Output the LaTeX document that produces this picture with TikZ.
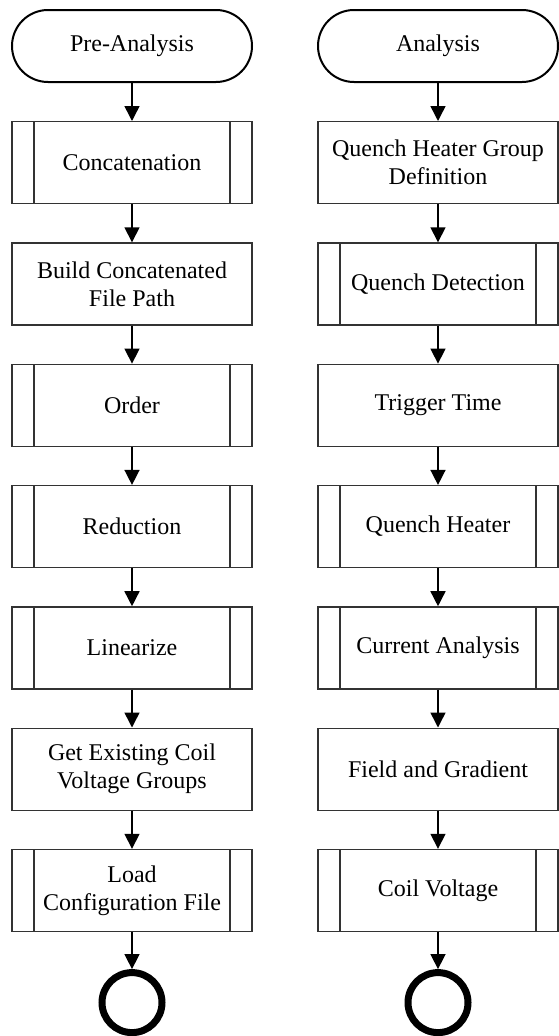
\documentclass[tikz,border=0pt]{standalone}
\usepackage{fontspec}
\setmainfont{Liberation Serif}
\usetikzlibrary{arrows.meta,positioning}
\tikzset{
    bloco/.style={
        rectangle,
        draw=black!80,
        line width=1.3pt,
        align=center,
        minimum width=240pt,
        minimum height=82pt,
        inner sep=2pt
    },
    processo/.style={bloco},
    subprocesso/.style={bloco, path picture={
        \draw[black!80, line width=1.3pt]
            ([xshift=22pt]path picture bounding box.north west) -- ([xshift=22pt]path picture bounding box.south west)
            ([xshift=-22pt]path picture bounding box.north east) -- ([xshift=-22pt]path picture bounding box.south east);}
    },
    terminal/.style={
        rectangle,
        draw=black,
        line width=2pt,
        rounded corners=36pt,
        minimum width=240pt,
        minimum height=72pt
    },
    fim/.style={circle, draw=black, line width=7pt, minimum size=60pt, inner sep=0pt},
    fluxo/.style={-{Triangle[length=15pt,width=15pt]}, line width=1.5pt}
}

\begin{document}
\begin{tikzpicture}[x=1pt, y=1pt, node distance=38pt, font=\fontsize{24}{28}\selectfont]
    \useasboundingbox (0,0) rectangle (558,-1036);
    % coluna da esquerda
    \node[terminal] (pre) at (132,-46) {Pre-Analysis};
    \node[subprocesso, below=of pre] (concat) {Concatenation};
    \node[processo, below=of concat] (caminho) {Build Concatenated\\File Path};
    \node[subprocesso, below=of caminho] (ordem) {Order};
    \node[subprocesso, below=of ordem] (reducao) {Reduction};
    \node[subprocesso, below=of reducao] (linear) {Linearize};
    \node[processo, below=of linear] (grupos) {Get Existing Coil\\Voltage Groups};
    \node[subprocesso, below=of grupos] (config) {Load\\Configuration File};
    \node[fim, below=37pt of config] (fimpre) {};
    \draw[fluxo] (pre) -- (concat);
    \draw[fluxo] (concat) -- (caminho);
    \draw[fluxo] (caminho) -- (ordem);
    \draw[fluxo] (ordem) -- (reducao);
    \draw[fluxo] (reducao) -- (linear);
    \draw[fluxo] (linear) -- (grupos);
    \draw[fluxo] (grupos) -- (config);
    \draw[fluxo] (config) -- (fimpre);
    % coluna da direita
    \node[terminal] (analise) at (438,-46) {Analysis};
    \node[processo, below=of analise] (grupoqh) {Quench Heater Group\\Definition};
    \node[subprocesso, below=of grupoqh] (deteccao) {Quench Detection};
    \node[processo, below=of deteccao] (gatilho) {Trigger Time};
    \node[subprocesso, below=of gatilho] (aquecedor) {Quench Heater};
    \node[subprocesso, below=of aquecedor] (corrente) {Current Analysis};
    \node[processo, below=of corrente] (campo) {Field and Gradient};
    \node[subprocesso, below=of campo] (bobina) {Coil Voltage};
    \node[fim, below=37pt of bobina] (fimana) {};
    \draw[fluxo] (analise) -- (grupoqh);
    \draw[fluxo] (grupoqh) -- (deteccao);
    \draw[fluxo] (deteccao) -- (gatilho);
    \draw[fluxo] (gatilho) -- (aquecedor);
    \draw[fluxo] (aquecedor) -- (corrente);
    \draw[fluxo] (corrente) -- (campo);
    \draw[fluxo] (campo) -- (bobina);
    \draw[fluxo] (bobina) -- (fimana);
\end{tikzpicture}
\end{document}
